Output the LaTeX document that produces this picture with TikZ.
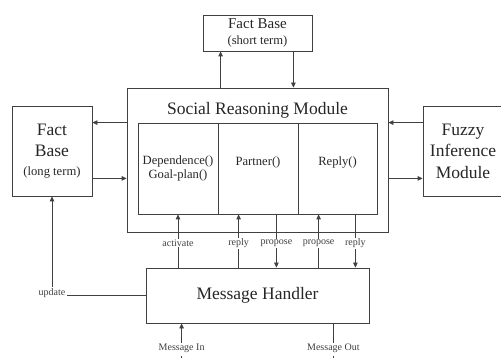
\documentclass[tikz,border=0pt]{standalone}
\usepackage{fontspec}
\setmainfont{Liberation Serif}
\usetikzlibrary{arrows.meta,calc}
\tikzset{
 box/.style={draw=black!75, line width=0.8pt, inner sep=0pt, align=center, text=black!85},
 big/.style={font=\fontsize{17.5}{21.5}\selectfont},
 med/.style={font=\fontsize{12.6}{14.5}\selectfont},
 lbl/.style={font=\fontsize{10}{12}\selectfont, text=black!75, fill=white, inner sep=1pt},
 arr/.style={draw=black!75, line width=0.8pt, -{Triangle[length=5pt,width=4.5pt]}},
 ln/.style={draw=black!75, line width=0.8pt},
}
\begin{document}
\begin{tikzpicture}[x=1pt,y=-1pt]
\useasboundingbox (0,0) rectangle (501,358);
% boxes
\node[box, minimum width=109pt, minimum height=36pt, font=\fontsize{15}{15.5}\selectfont] (fbs) at (257.5,33)
  {Fact Base\\[1pt]{\fontsize{12.6}{14}\selectfont (short term)}};
\node[box, minimum width=261pt, minimum height=144pt] (srm) at (257.5,160) {};
\node[big, text=black!85] (srmt) at (257.5,110) {Social Reasoning Module};
\node[box, med, minimum width=80pt, minimum height=91pt] (c1) at (178,168.5) {Dependence()\\Goal-plan()};
\node[box, minimum width=80pt, minimum height=91pt] (c2) at (258,168.5) {};
\node[box, minimum width=79pt, minimum height=91pt] (c3) at (337.5,168.5) {};
\node[med, text=black!85] (t2) at ([yshift=6.5pt]c2.center) {Partner()};
\node[med, text=black!85] (t3) at ([yshift=6.5pt]c3.center) {Reply()};
\node[box, big, minimum width=80pt, minimum height=90pt] (fbl) at (52,151)
  {Fact\\Base\\[-3pt]{\fontsize{12.6}{14}\selectfont (long term)}};
\node[box, big, minimum width=80pt, minimum height=90pt] (fim) at (463,151)
  {Fuzzy\\Inference\\Module};
\node[box, big, minimum width=223pt, minimum height=55pt] (mh) at (257.5,295.5) {Message Handler};
% top connectors
\coordinate (a1) at ([xshift=18pt]fbs.south west);
\coordinate (a2) at ([xshift=-19pt]fbs.south east);
\draw[arr] (a1 |- srm.north) -- (a1);
\draw[arr] (a2) -- (a2 |- srm.north);
% side connectors
\coordinate (b1) at ([yshift=-35pt]srm.north west);
\coordinate (b2) at ([yshift=54pt]srm.south west);
\draw[arr] (b1) -- (b1 -| fbl.east);
\draw[arr] (b2 -| fbl.east) -- (b2);
\draw[arr] (b1 -| fim.west) -- (b1 -| srm.east);
\draw[arr] (b2 -| srm.east) -- (b2 -| fim.west);
% bottom connectors
\coordinate (d1) at (c1.south);
\coordinate (d2) at ([xshift=21pt]c2.south west);
\coordinate (d3) at ([xshift=-22pt]c2.south east);
\coordinate (d4) at ([xshift=21pt]c3.south west);
\coordinate (d5) at ([xshift=-22pt]c3.south east);
\draw[arr] (d1 |- mh.north) -- node[lbl,pos=0.46] (l1) {activate} (d1);
\draw[arr] (d2 |- mh.north) -- node[lbl,pos=0.46] (l2) {reply} (d2);
\draw[arr] (d3) -- node[lbl,pos=0.54] (l3) {propose} (d3 |- mh.north);
\draw[arr] (d4 |- mh.north) -- node[lbl,pos=0.46] (l4) {propose} (d4);
\draw[arr] (d5) -- node[lbl,pos=0.54] (l5) {reply} (d5 |- mh.north);
% update
\node[lbl, anchor=base] (upd) at (fbl.south |- mh.west) {update};
\draw[ln] (mh.west) -- (upd.base east);
\draw[arr] (upd.north) -- (fbl.south);
% message in / out
\node[lbl] (min) at ([xshift=36pt,yshift=-25pt]mh.south west) {Message In};
\draw[arr] (min.north) -- (min.north |- mh.south);
\draw[ln] ([yshift=-2pt]min.south) -- ++(0,8);
\node[lbl] (mout) at ([xshift=-36pt,yshift=-25pt]mh.south east) {Message Out};
\draw[ln] (mout.north |- mh.south) -- (mout.north);
\draw[ln] ([yshift=-2pt]mout.south) -- ++(0,8);
\end{tikzpicture}
\end{document}
